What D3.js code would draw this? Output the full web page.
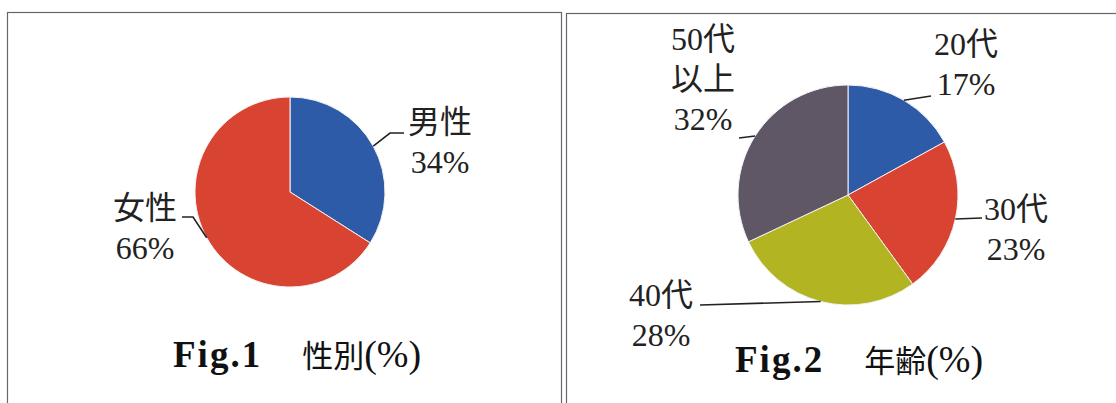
<!DOCTYPE html>
<html>
<head>
<meta charset="utf-8">
<script src="https://cdn.jsdelivr.net/npm/d3@7"></script>
<style>
  html, body { margin: 0; padding: 0; background: #fff; }
  svg { display: block; }
</style>
</head>
<body>
<svg id="chart" width="1116" height="403"></svg>
<script>
// Fig.1: respondents by sex (%)
const sexCategories = ["男性", "女性"];
const sexValues = [34, 66];
const sexColors = ["#2d5ba8", "#d94432"];

// Fig.2: respondents by age group (%)
const ageCategories = ["20代", "30代", "40代", "50代\n以上"];
const ageValues = [17, 23, 28, 32];
const ageColors = ["#2d5ba8", "#d94432", "#b2b521", "#5f5766"];

const titles = [
  { fig: "Fig.1", jp: "性別" },
  { fig: "Fig.2", jp: "年齢" }
];

const svg = d3.select("#chart");
const labelFont = "'Liberation Serif', 'Noto Sans CJK JP', serif";

// Panel frames
svg.append("rect").attr("x", 7.5).attr("y", 12.5).attr("width", 554).attr("height", 420)
  .attr("fill", "none").attr("stroke", "#6a6470").attr("stroke-width", 1.2);
svg.append("rect").attr("x", 566.5).attr("y", 13.5).attr("width", 600).attr("height", 420)
  .attr("fill", "none").attr("stroke", "#6a6470").attr("stroke-width", 1.2);

// Label placement for each slice: label centre / first baseline and leader bends,
// all relative to the pie centre.
const panels = [
  {
    cx: 290, cy: 192, r: 95,
    cats: sexCategories, vals: sexValues, colors: sexColors, title: titles[0],
    titleX: -117, titleY: 175,
    labels: [
      { x: 150, y: -59, leader: [[100, -59], [114, -59]] },
      { x: -145, y: 27, leader: [[-97, 25], [-108, 25]] }
    ]
  },
  {
    cx: 848, cy: 195, r: 110,
    cats: ageCategories, vals: ageValues, colors: ageColors, title: titles[1],
    titleX: -113, titleY: 177,
    labels: [
      { x: 118, y: -140, leader: [[83, -99]] },
      { x: 168, y: 25, leader: [[134, 23]] },
      { x: -187, y: 111, leader: [[-148, 110]] },
      { x: -145, y: -145, leader: [[-109, -57]] }
    ]
  }
];

panels.forEach(p => {
  const data = p.cats.map((c, i) => ({ name: c, value: p.vals[i], color: p.colors[i], layout: p.labels[i] }));
  const pie = d3.pie().sort(null).value(d => d.value);
  const arcs = pie(data);
  const arc = d3.arc().innerRadius(0).outerRadius(p.r);
  const edge = d3.arc().innerRadius(p.r).outerRadius(p.r);

  const g = svg.append("g").attr("transform", `translate(${p.cx},${p.cy})`);

  g.selectAll("path.slice").data(arcs).join("path")
    .attr("class", "slice")
    .attr("d", arc)
    .attr("fill", d => d.data.color)
    .attr("stroke", "#f4f2f2")
    .attr("stroke-width", 1);

  // Leader lines from the middle of each slice's rim to its label
  g.selectAll("path.leader").data(arcs).join("path")
    .attr("class", "leader")
    .attr("d", d => d3.line()([edge.centroid(d), ...d.data.layout.leader]))
    .attr("fill", "none")
    .attr("stroke", "#222")
    .attr("stroke-width", 1.6);

  // Labels: category (possibly multi-line) then percentage
  arcs.forEach(d => {
    const lines = d.data.name.split("\n").concat([d.data.value + "%"]);
    const t = g.append("text")
      .attr("text-anchor", "middle")
      .attr("font-family", labelFont)
      .attr("font-size", 32)
      .attr("fill", "#222");
    lines.forEach((s, i) => {
      t.append("tspan")
        .attr("x", d.data.layout.x)
        .attr("y", d.data.layout.y + i * 40)
        .text(s);
    });
  });

  // Figure caption
  const cap = g.append("text")
    .attr("x", p.titleX)
    .attr("y", p.titleY)
    .attr("fill", "#111");
  cap.append("tspan")
    .attr("font-family", "'Liberation Serif', serif")
    .attr("font-weight", "bold")
    .attr("font-size", 37)
    .attr("letter-spacing", 2)
    .text(p.title.fig);
  cap.append("tspan")
    .attr("dx", 40)
    .attr("font-family", "'Noto Sans CJK JP', sans-serif")
    .attr("font-size", 31)
    .text(p.title.jp);
  cap.append("tspan")
    .attr("font-family", "'Liberation Serif', serif")
    .attr("font-size", 38)
    .text("(%)");
});
</script>
</body>
</html>
